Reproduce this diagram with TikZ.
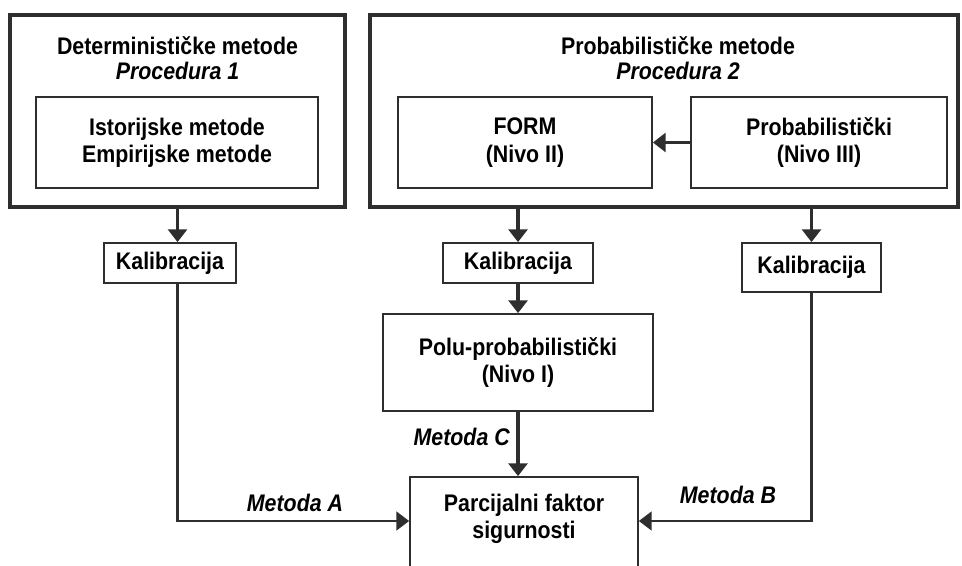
\documentclass[tikz,border=0pt]{standalone}
\usepackage{fontspec}
\setmainfont{Liberation Sans}[FakeStretch=0.89]
\usetikzlibrary{arrows.meta,positioning}
\definecolor{linegray}{HTML}{2E2E2E}
\tikzset{
    x=0.75pt, y=-0.75pt,
    font=\fontsize{18}{20.5}\selectfont\bfseries,
    group/.style ={rectangle, draw=linegray, line width=2.6pt, inner sep=0pt},
    box/.style ={rectangle, draw=linegray, line width=1.3pt, align=center, inner sep=0pt},
    title/.style ={align=center, inner sep=0pt, font=\fontsize{18}{18.75}\selectfont\bfseries},
    flow/.style ={draw=linegray, line width=2.4pt, -{Triangle[length=9.5pt,width=14pt]}},
    thinflow/.style ={flow, line width=1.6pt},
    lab/.style = {inner sep=0pt, font=\fontsize{18}{20.5}\selectfont\bfseries\itshape}
}

\begin{document}
\begin{tikzpicture}
        \useasboundingbox (0,0) rectangle (962,566);
        \clip (0,0) rectangle (962,566);

        \node[group, minimum width=251.25pt, minimum height=144pt] (det) at (177.5,111) {};
        \node[title] (dettitle) at (177.5,58.5) {Determinističke metode\\\textit{Procedura 1}};
        \node[box, minimum width=211.5pt, minimum height=68.25pt] (detin) at (177,142.5)
        {Istorijske metode\\Empirijske metode};

        \node[group, minimum width=441pt, minimum height=144pt] (prob) at (664,111) {};
        \node[title] (probtitle) at (678,58.5) {Probabilističke metode\\\textit{Procedura 2}};
        \node[box, minimum width=190.5pt, minimum height=68.25pt] (form) at (525,142.5)
        {FORM\\(Nivo II)};
        \node[box, minimum width=192pt, minimum height=68.25pt] (lvl3) at (819,142.5)
        {Probabilistički\\(Nivo III)};

        \node[box, minimum width=99pt, minimum height=30pt] (kal1) at (170,263) {Kalibracija};
        \node[box, minimum width=112.5pt, minimum height=30pt] (kal2) at (518,263) {Kalibracija};
        \node[box, minimum width=104.25pt, minimum height=36.75pt] (kal3) at (811.5,267.5) {Kalibracija};

        \node[box, minimum width=202.5pt, minimum height=72.75pt] (polu) at (518,362.5)
        {Polu-probabilistički\\(Nivo I)};
        \node[box, minimum width=171pt, minimum height=75pt] (pfs) at (524,527) {};
        \node[align=center, inner sep=0pt] (pfstext) at (524,519) {Parcijalni faktor\\sigurnosti};

        \draw[flow] (lvl3) -- (form);
        \draw[flow] (det.south) -- (det.south |- kal1.north);
        \draw[flow] (kal2.north |- prob.south) -- (kal2.north);
        \draw[flow] (kal3.north |- prob.south) -- (kal3.north);
        \draw[flow] (kal2.south) -- (kal2.south |- polu.north);
        \draw[flow] (polu.south) -- (polu.south |- pfs.north);

        \draw[thinflow] (det.south |- kal1.south) |- ([yshift=4.5pt]pfs.west);
        \draw[thinflow] (kal3.south) |- ([yshift=4.5pt]pfs.east);

        \node[lab] (metA) at (295,503) {Metoda A};
        \node[lab] (metB) at (728,495) {Metoda B};
        \node[lab, anchor=east] (metC) at (510,437) {Metoda C};
      \end{tikzpicture}
\end{document}
